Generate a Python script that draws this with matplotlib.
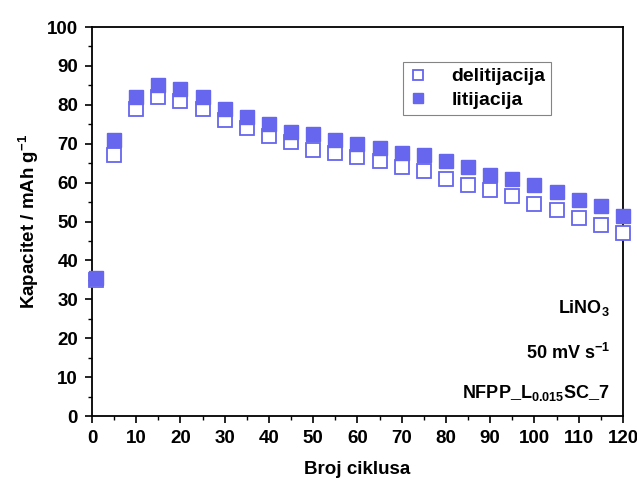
import matplotlib
matplotlib.use("Agg")
import matplotlib.pyplot as plt
from matplotlib.ticker import MultipleLocator

plt.rcParams["font.family"] = ["Liberation Sans", "DejaVu Sans"]
plt.rcParams["font.weight"] = "bold"
plt.rcParams["mathtext.fontset"] = "custom"
plt.rcParams["mathtext.rm"] = "Liberation Sans:bold"
plt.rcParams["mathtext.it"] = "Liberation Sans:bold"
plt.rcParams["mathtext.bf"] = "Liberation Sans:bold"

cycles = [1, 5, 10, 15, 20, 25, 30, 35, 40, 45, 50, 55, 60, 65, 70, 75,
          80, 85, 90, 95, 100, 105, 110, 115, 120]
delitijacija = [35, 67, 79, 82, 81, 79, 76, 74, 72, 70.5, 68.5, 67.5, 66.5,
                65.5, 64, 63, 61, 59.5, 58, 56.5, 54.5, 53, 51, 49, 47]
litijacija = [35.5, 71, 82, 85, 84, 82, 79, 77, 75, 73, 72.5, 71, 70, 69,
              67.5, 67, 65.5, 64, 62, 61, 59.5, 57.5, 55.5, 54, 51.5]

BLUE = "#6666ee"

fig = plt.figure(figsize=(6.37, 4.83), dpi=100)
ax = fig.add_axes([0.1444, 0.1387, 0.8336, 0.8053])

ax.plot(cycles, delitijacija, "s", ms=9.5, mfc="white", mec=BLUE, mew=1.3,
        label="delitijacija", clip_on=False, zorder=3)
ax.plot(cycles, litijacija, "s", ms=9.5, mfc=BLUE, mec=BLUE, mew=1.0,
        label="litijacija", clip_on=False, zorder=4)

ax.set_xlim(0, 120)
ax.set_ylim(0, 100)
ax.xaxis.set_major_locator(MultipleLocator(10))
ax.xaxis.set_minor_locator(MultipleLocator(5))
ax.yaxis.set_major_locator(MultipleLocator(10))
ax.yaxis.set_minor_locator(MultipleLocator(5))
ax.tick_params(which="major", direction="out", length=5, width=1.2,
               labelsize=13.5, top=False, right=False, pad=5)
ax.tick_params(which="minor", direction="out", length=3, width=1.0,
               top=False, right=False)
for s in ax.spines.values():
    s.set_linewidth(1.3)

ax.set_xlabel("Broj ciklusa", fontsize=13.5, fontweight="bold", labelpad=10)
ax.set_ylabel("Kapacitet / mAh g$^{-1}$", fontsize=13.5, fontweight="bold",
              labelpad=4)

leg = ax.legend(loc="upper left", bbox_to_anchor=(0.585, 0.91),
                fontsize=14, frameon=True, fancybox=False, handletextpad=1.2,
                borderpad=0.3, labelspacing=0.3, handlelength=1.0,
                markerscale=0.75, borderaxespad=0)
leg.get_frame().set_edgecolor("#666666")
leg.get_frame().set_linewidth(0.8)

ax.text(0.975, 0.278, "LiNO$_3$", transform=ax.transAxes, ha="right",
        va="center", fontsize=13)
ax.text(0.975, 0.162, "50 mV s$^{-1}$", transform=ax.transAxes, ha="right",
        va="center", fontsize=13)
ax.text(0.975, 0.059, "NFPP_L$_{0.015}$SC_7", transform=ax.transAxes,
        ha="right", va="center", fontsize=13)

fig.savefig("out.png", dpi=100)
